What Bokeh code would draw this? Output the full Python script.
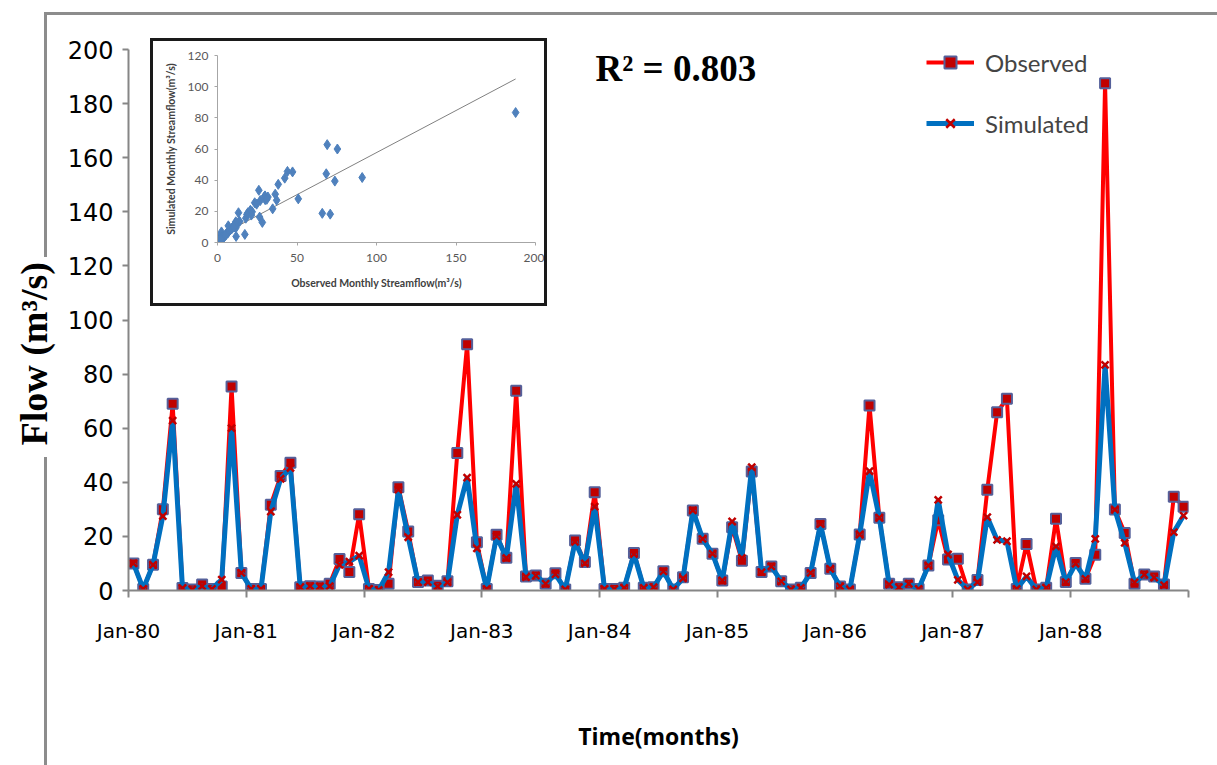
import numpy as np
from bokeh.plotting import figure
from bokeh.models import (Range1d, FixedTicker, Label, Legend, LegendItem,
                          ColumnDataSource, Title, Div)
from bokeh.embed import file_html
from bokeh.resources import INLINE

# ---------------- data ----------------
obs = [
    10.0, 0.6, 9.5, 30.0, 69.0, 0.9, 0.4, 2.2, 0.6, 1.5, 75.4, 6.5,
    0.6, 0.6, 31.7, 42.3, 47.2, 1.2, 1.6, 1.5, 2.5, 11.6, 6.8, 28.2,
    0.6, 0.2, 2.5, 38.2, 21.8, 3.1, 3.7, 1.8, 3.4, 50.8, 91.0, 17.8,
    0.6, 20.6, 12.1, 73.8, 5.2, 5.5, 2.5, 6.4, 0.4, 18.5, 10.5, 36.3,
    0.6, 0.6, 1.0, 13.9, 1.0, 1.2, 7.1, 0.4, 4.9, 29.6, 19.1, 13.6,
    3.7, 23.4, 11.0, 44.0, 6.8, 8.9, 3.4, 0.4, 1.0, 6.5, 24.6, 8.0,
    1.5, 0.4, 20.7, 68.4, 26.9, 2.5, 1.2, 2.5, 0.6, 9.2, 26.0, 11.5,
    11.7, 0.4, 3.9, 37.2, 65.9, 70.9, 0.6, 17.2, 0.4, 1.0, 26.5, 3.1,
    10.2, 4.3, 13.2, 187.5, 29.9, 21.3, 2.5, 5.9, 5.2, 2.2, 34.7, 31.0,
]
sim = [
    10.0, 0.6, 9.5, 27.5, 62.8, 0.9, 0.4, 1.6, 0.6, 4.0, 60.0, 6.5,
    0.6, 0.6, 29.2, 41.3, 45.3, 1.2, 1.6, 1.5, 1.6, 9.5, 10.7, 12.9,
    0.6, 0.2, 6.8, 37.3, 19.7, 3.1, 3.1, 1.5, 3.0, 28.0, 41.7, 15.6,
    0.6, 20.1, 12.0, 39.4, 5.0, 5.5, 2.5, 6.0, 0.4, 18.0, 10.0, 31.0,
    0.6, 0.6, 1.0, 13.5, 1.0, 1.2, 7.1, 0.4, 4.5, 29.6, 19.1, 13.6,
    3.7, 25.5, 12.0, 45.6, 6.8, 8.9, 3.4, 0.4, 1.0, 6.5, 24.6, 8.0,
    1.5, 0.4, 20.7, 44.1, 26.9, 2.2, 1.2, 2.5, 0.6, 9.2, 33.5, 13.3,
    3.9, 0.4, 3.1, 27.1, 18.7, 18.2, 0.6, 5.2, 0.4, 1.0, 16.3, 3.1,
    9.9, 4.3, 19.1, 83.4, 29.9, 17.6, 3.0, 5.9, 4.8, 2.0, 21.6, 27.7,
]
month_index = list(range(len(obs)))
year_ticks = [0, 12, 24, 36, 48, 60, 72, 84, 96, 108]
year_labels = ["Jan-80", "Jan-81", "Jan-82", "Jan-83", "Jan-84",
               "Jan-85", "Jan-86", "Jan-87", "Jan-88", ""]
y_ticks = [0, 20, 40, 60, 80, 100, 120, 140, 160, 180, 200]
inset_x_ticks = [0, 50, 100, 150, 200]
inset_y_ticks = [0, 20, 40, 60, 80, 100, 120]
r2_text = "R\u00b2 = 0.803"

xc = [m + 0.5 for m in month_index]
src = ColumnDataSource(dict(x=xc, obs=obs, sim=sim))

# ---------------- main figure ----------------
p = figure(width=1217, height=765, x_range=Range1d(0, 108), y_range=Range1d(0, 200),
           output_backend="svg", toolbar_location=None,
           min_border_left=127, min_border_right=29, min_border_top=49,
           min_border_bottom=175)
p.outline_line_color = None
p.xgrid.visible = False
p.ygrid.visible = False
p.background_fill_color = "white"
p.border_fill_color = "white"

axis_col = "#868686"
p.xaxis.ticker = FixedTicker(ticks=year_ticks)
p.xaxis.major_label_overrides = {t: l for t, l in zip(year_ticks, year_labels)}
p.xaxis.minor_tick_line_color = None
p.xaxis.axis_line_color = axis_col
p.xaxis.axis_line_width = 2
p.xaxis.major_tick_line_color = axis_col
p.xaxis.major_tick_line_width = 2
p.xaxis.major_tick_out = 7
p.xaxis.major_tick_in = 0
p.xaxis.major_label_text_font = "DejaVu Sans"
p.xaxis.major_label_text_font_size = "20px"
p.xaxis.major_label_text_color = "black"
p.xaxis.major_label_standoff = 21
p.xaxis.axis_label = "Time(months)"
p.xaxis.axis_label_text_font = "Open Sans"
p.xaxis.axis_label_text_font_style = "bold"
p.xaxis.axis_label_text_font_size = "23px"
p.xaxis.axis_label_text_color = "black"
p.xaxis.axis_label_standoff = 74

p.yaxis.ticker = FixedTicker(ticks=y_ticks)
p.yaxis.minor_tick_line_color = None
p.yaxis.axis_line_color = axis_col
p.yaxis.axis_line_width = 2
p.yaxis.major_tick_line_color = axis_col
p.yaxis.major_tick_line_width = 2
p.yaxis.major_tick_out = 6
p.yaxis.major_tick_in = 0
p.yaxis.major_label_text_font = "DejaVu Sans"
p.yaxis.major_label_text_font_size = "24px"
p.yaxis.major_label_text_color = "black"
p.yaxis.major_label_standoff = 9

r_obs_line = p.line("x", "obs", source=src, line_color="#ff0000", line_width=4)
r_obs_pts = p.scatter("x", "obs", source=src, marker="square", size=10,
                      fill_color="#c00000", line_color="#55609a", line_width=2)
r_sim_line = p.line("x", "sim", source=src, line_color="#0070c0", line_width=5)
r_sim_pts = p.scatter("x", "sim", source=src, marker="x", size=10,
                      line_color="#c00000", line_width=2.5)

legend = Legend(items=[LegendItem(label="Observed", renderers=[r_obs_line, r_obs_pts]),
                       LegendItem(label="Simulated", renderers=[r_sim_line, r_sim_pts])],
                location=(798, 452), orientation="vertical",
                glyph_width=48, glyph_height=30, label_height=30, spacing=31,
                label_standoff=11, padding=4, margin=0,
                label_text_font="Lato", label_text_font_size="24px",
                border_line_color=None, background_fill_alpha=0)
p.add_layout(legend, "center")

p.add_layout(Label(x=595, y=68, x_units="canvas", y_units="canvas", text=r2_text,
                   text_font="Liberation Serif", text_font_style="bold",
                   text_font_size="37px", text_baseline="alphabetic", text_color="black"))

# y-axis title on the left side
ytitle = Title(text="Flow (m\u00b3/s)", align="left", offset=145,
               text_font="Liberation Serif", text_font_style="bold",
               text_font_size="38px", text_color="black",
               background_fill_color="white", standoff=20)
p.add_layout(ytitle, "left")

# ---------------- inset scatter ----------------
ins = figure(width=397, height=268, x_range=Range1d(0, 200), y_range=Range1d(0, 120),
             output_backend="svg", toolbar_location=None,
             min_border_left=64, min_border_right=15, min_border_top=14,
             min_border_bottom=67,
             styles={"position": "absolute", "left": "150px", "top": "38px",
                     "border": "3px solid #1a1a1a"})
ins.outline_line_color = None
ins.xgrid.visible = False
ins.ygrid.visible = False
for ax, tk in ((ins.xaxis, inset_x_ticks), (ins.yaxis, inset_y_ticks)):
    ax.ticker = FixedTicker(ticks=tk)
    ax.minor_tick_line_color = None
    ax.axis_line_color = "#a6a6a6"
    ax.major_tick_line_color = "#a6a6a6"
    ax.major_tick_out = 3
    ax.major_tick_in = 0
    ax.major_label_text_font = "Lato"
    ax.major_label_text_font_size = "12px"
    ax.major_label_text_color = "#595959"
    ax.axis_label_text_font = "Lato"
    ax.axis_label_text_font_style = "bold"
    ax.axis_label_text_font_size = "10.5px"
    ax.axis_label_text_color = "#404040"
ins.xaxis.axis_label = "Observed Monthly Streamflow(m\u00b3/s)"
ins.yaxis.axis_label = "Simulated Monthly Streamflow(m\u00b3/s)"
ins.xaxis.major_label_standoff = 8
ins.xaxis.axis_label_standoff = 12
ins.yaxis.major_label_standoff = 6
ins.yaxis.axis_label_standoff = 8

slope, intercept = np.polyfit(np.array(obs), np.array(sim), 1)
fit_x = [min(obs), max(obs)]
fit_y = [slope * v + intercept for v in fit_x]
ins.line(fit_x, fit_y, line_color="#808080", line_width=1)
ins.scatter(obs, sim, marker="diamond", size=10, fill_color="#4f81bd",
            line_color="#4f81bd")

# ---------------- page frame: thin grey lines, interrupted by the y title ----------------
def frame_line(left, top, w, h):
    return Div(text="", width=w, height=h,
               styles={"position": "absolute", "left": f"{left}px", "top": f"{top}px",
                       "width": f"{w}px", "height": f"{h}px",
                       "background-color": "#8c8c8c", "overflow": "hidden"})

frame_top = frame_line(39, 7, 1178, 3)
frame_left_a = frame_line(39, 7, 3, 245)
frame_left_b = frame_line(39, 452, 3, 313)

open("out.html", "w").write(
    file_html([p, ins, frame_top, frame_left_a, frame_left_b], INLINE))
